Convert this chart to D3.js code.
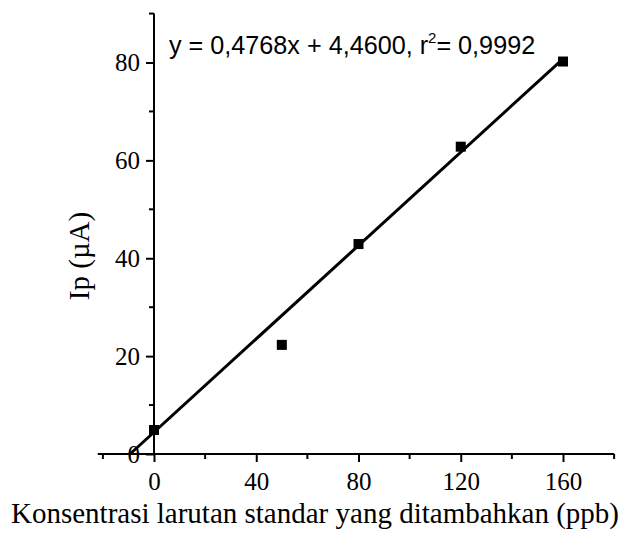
<!DOCTYPE html>
<html>
<head>
<meta charset="utf-8">
<script src="https://cdn.jsdelivr.net/npm/d3@7"></script>
<style>
  body { margin: 0; background: #fff; }
  .tick text { font-family: "Liberation Serif", "Times New Roman", serif; }
</style>
</head>
<body>
<div id="chart"></div>
<script>
// data
var conc = [0, 50, 80, 120, 160];
var current = [4.9, 22.3, 42.9, 62.8, 80.2];
var xMajor = [0, 40, 80, 120, 160];
var xMinor = [-20, 20, 60, 100, 140, 180];
var yMajor = [0, 20, 40, 60, 80];
var yMinor = [10, 30, 50, 70, 90];
var slope = 0.4768, intercept = 4.46;

var svgWidth = 633, svgHeight = 539;

var svg = d3.select("#chart").append("svg")
  .attr("width", svgWidth)
  .attr("height", svgHeight);

var xScale = d3.scaleLinear().domain([0, 160]).range([154, 563]);
var yScale = d3.scaleLinear().domain([0, 80]).range([454, 62.5]);

// x axis sits on y = 0, y axis on x = 0
var xAxisG = svg.append("g").attr("transform", `translate(0, ${yScale(0)})`);
xAxisG.append("line")
  .attr("x1", xScale(-22)).attr("x2", xScale(180))
  .attr("stroke", "#000").attr("stroke-width", 2);
xAxisG.call(d3.axisBottom(xScale).tickValues(xMajor).tickSize(8).tickPadding(10))
  .call(g => g.select(".domain").remove())
  .call(g => g.selectAll(".tick line").attr("stroke-width", 2))
  .call(g => g.selectAll(".tick text").attr("font-size", 25).attr("fill", "#000"));
xAxisG.selectAll(".minor").data(xMinor).enter().append("line")
  .attr("x1", d => xScale(d)).attr("x2", d => xScale(d))
  .attr("y1", 0).attr("y2", 5)
  .attr("stroke", "#000").attr("stroke-width", 2);

var yAxisG = svg.append("g").attr("transform", `translate(${xScale(0)}, 0)`);
yAxisG.append("line")
  .attr("y1", yScale(0)).attr("y2", yScale(90))
  .attr("stroke", "#000").attr("stroke-width", 2);
yAxisG.call(d3.axisLeft(yScale).tickValues(yMajor).tickSize(8).tickPadding(6))
  .call(g => g.select(".domain").remove())
  .call(g => g.selectAll(".tick line").attr("stroke-width", 2))
  .call(g => g.selectAll(".tick text").attr("font-size", 25).attr("fill", "#000"));
yAxisG.selectAll(".minor").data(yMinor).enter().append("line")
  .attr("x1", 0).attr("x2", -5)
  .attr("y1", d => yScale(d)).attr("y2", d => yScale(d))
  .attr("stroke", "#000").attr("stroke-width", 2);

// fitted line, from where it meets y = 0 up to the last standard
var x0 = -intercept / slope;
svg.append("line")
  .attr("x1", xScale(x0)).attr("y1", yScale(0))
  .attr("x2", xScale(160)).attr("y2", yScale(slope * 160 + intercept))
  .attr("stroke", "#000").attr("stroke-width", 3);

// data points
svg.selectAll("rect.pt").data(conc).enter().append("rect")
  .attr("class", "pt")
  .attr("x", (d, i) => xScale(d) - 5)
  .attr("y", (d, i) => yScale(current[i]) - 5)
  .attr("width", 10).attr("height", 10)
  .attr("fill", "#000");

// equation
var eq = svg.append("text")
  .attr("x", 169).attr("y", 54)
  .attr("font-family", "'Liberation Sans', Arial, sans-serif")
  .attr("font-size", 25.2)
  .attr("fill", "#000");
eq.append("tspan").text("y = 0,4768x + 4,4600, r");
eq.append("tspan").attr("font-size", 15).attr("dy", -11).text("2");
eq.append("tspan").attr("dy", 11).text("= 0,9992");

// axis labels
svg.append("text")
  .attr("transform", "translate(89, 256) rotate(-90)")
  .attr("text-anchor", "middle")
  .attr("font-family", "'Liberation Serif', 'Times New Roman', serif")
  .attr("font-size", 29)
  .text("Ip (\u00b5A)");

svg.append("text")
  .attr("x", 315).attr("y", 523)
  .attr("text-anchor", "middle")
  .attr("font-family", "'Liberation Serif', 'Times New Roman', serif")
  .attr("font-size", 29)
  .text("Konsentrasi larutan standar yang ditambahkan (ppb)");
</script>
</body>
</html>
